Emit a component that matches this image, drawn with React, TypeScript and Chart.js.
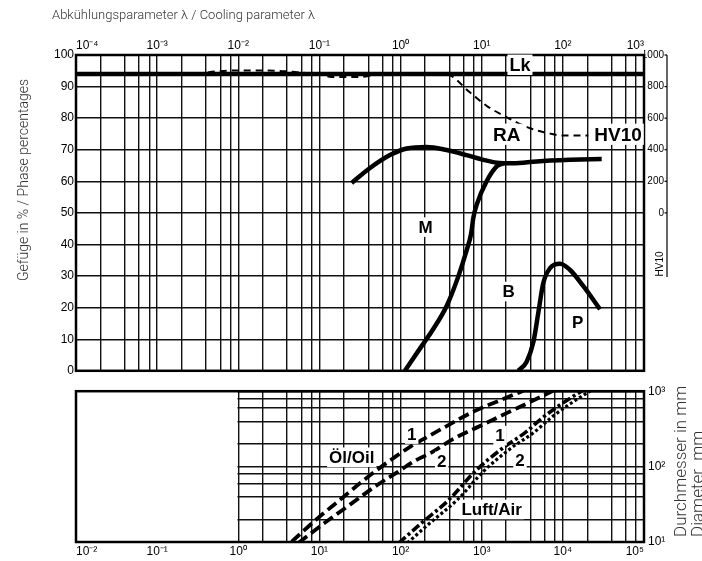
import React, { useEffect, useRef } from 'react';
import { Chart, registerables } from 'chart.js';

Chart.register(...registerables);

// ---------- axes / ticks ----------
const TOP_DECADES = [-4, -3, -2, -1, 0, 1, 2, 3];
const BOTTOM_DECADES = [-2, -1, 0, 1, 2, 3, 4, 5];
const DIAM_DECADES = [1, 2, 3];
const GRID_STEPS = [1, 2, 4, 6, 8];
const PCT_STEP = 10;
const HV_TICK_STEP = 200;

// ---------- upper panel data (cooling parameter lambda) ----------
const lkLambda = [1e-4, 1e3];
const lkPct = [94, 94];

const hvLambda = [0.003, 0.006, 0.01, 0.03, 0.05, 0.1, 0.15, 0.3, 0.5, 1, 3.7, 7.2, 11.5, 20.3, 39.4, 69.5, 101, 206];
const hvValues = [880, 898, 902, 900, 892, 876, 860, 860, 874, 880, 876, 762, 678, 606, 536, 502, 490, 490];

const raLambda = [0.25, 0.42, 0.74, 1.19, 2.1, 3.7, 6.5, 10.5, 15.3, 24.5, 47.6, 122, 301];
const raPct = [59.5, 64.2, 68.3, 70.4, 70.9, 69.9, 68.3, 66.8, 65.9, 65.7, 66.3, 66.8, 67.1];

const mbLambda = [1.13, 1.74, 2.54, 3.71, 5.15, 6.53, 7.4, 7.9, 8.7, 11.5, 15.3, 18.6];
const mbPct = [0, 7.1, 13.3, 20.6, 29.9, 38.2, 43.4, 48.6, 52.7, 60, 64.7, 65.7];

const pLambda = [28.2, 35.8, 43.3, 49.9, 57.4, 69.5, 92.3, 122, 179, 287];
const pPct = [0, 2.9, 9.1, 18.5, 27.8, 32.5, 33.9, 32, 26.8, 19.5];

// ---------- lower panel data (diameter in mm) ----------
const oil1X = [4.55, 9.25, 17.9, 34.7, 67.4, 131, 210, 370, 789, 1683, 3260];
const oil1D = [10.1, 20.1, 36.2, 65.3, 112, 183, 245, 345, 536, 757, 1014];
const oil2X = [5.5, 11.2, 23.8, 50.8, 89.6, 158, 231, 447, 953, 2030, 3935, 7570];
const oil2D = [9.7, 17.4, 31.3, 56.3, 83.4, 123, 150, 233, 345, 512, 719, 1015];
const air1X = [95, 185, 393, 838, 1790, 3460, 5560, 9800, 17300];
const air1D = [9.7, 18.2, 36.2, 87.7, 174, 284, 441, 687, 1015];
const air2X = [121, 235, 500, 1066, 2270, 4400, 7070, 12450, 22000];
const air2D = [9.7, 18.2, 36.2, 87.7, 174, 284, 441, 687, 1015];

// ---------- helpers ----------
const SUP: Record<string, string> = { '-': '⁻', '0': '⁰', '1': '¹', '2': '²', '3': '³', '4': '⁴', '5': '⁵', '6': '⁶', '7': '⁷', '8': '⁸', '9': '⁹' };
const powLabel = (e: number) => '10' + String(e).split('').map((c) => SUP[c]).join('');
const isPow = (v: number) => Math.abs(Math.log10(v) - Math.round(Math.log10(v))) < 1e-9;
const logTicks = (decades: number[]) => {
  const out: number[] = [];
  decades.forEach((d, i) => {
    if (i === decades.length - 1) { out.push(Math.pow(10, d)); return; }
    GRID_STEPS.forEach((m) => out.push(m * Math.pow(10, d)));
  });
  return out;
};
const pts = (xs: number[], ys: number[]) => xs.map((x, i) => ({ x, y: ys[i] }));
const logLabel = (v: any) => (isPow(Number(v)) ? powLabel(Math.round(Math.log10(Number(v)))) : '');

const GRID = '#111';
const TICK_FONT = { family: "'Liberation Sans', Arial, sans-serif", size: 12 };
const TITLE_FONT = "300 13px Roboto, 'Liberation Sans', sans-serif";
const SIDE_TITLE_FONT = "300 14px Roboto, 'Liberation Sans', sans-serif";
const BOLD = (s: number) => `bold ${s}px 'Liberation Sans', Arial, sans-serif`;

function boxedText(ctx: CanvasRenderingContext2D, text: string, x: number, y: number, size: number) {
  ctx.save();
  ctx.font = BOLD(size);
  const w = ctx.measureText(text).width;
  const h = size * 0.8;
  ctx.fillStyle = '#fff';
  ctx.fillRect(x - w / 2 - 2, y - h / 2 - 3, w + 4, h + 6);
  ctx.fillStyle = '#000';
  ctx.textAlign = 'center';
  ctx.textBaseline = 'middle';
  ctx.fillText(text, x, y + 1);
  ctx.restore();
}

const lineDs = (data: any[], extra: any) => ({
  data,
  borderColor: '#000',
  backgroundColor: '#000',
  pointRadius: 0,
  fill: false,
  cubicInterpolationMode: 'monotone',
  borderCapStyle: 'butt',
  ...extra,
});

function topConfig(): any {
  const xTicks = logTicks(TOP_DECADES);
  const decor = {
    id: 'topDecor',
    beforeDatasetsDraw(chart: any) {
      const { ctx, chartArea: a } = chart;
      ctx.save();
      ctx.strokeStyle = '#000';
      ctx.lineWidth = 2.5;
      ctx.strokeRect(a.left, a.top, a.right - a.left, a.bottom - a.top);
      ctx.restore();
    },
    afterDatasetsDraw(chart: any) {
      const { ctx } = chart;
      const x = chart.scales.x, y = chart.scales.y;
      boxedText(ctx, 'Lk', x.getPixelForValue(29.6), y.getPixelForValue(96.9), 18);
      boxedText(ctx, 'RA', x.getPixelForValue(20.3), y.getPixelForValue(74.9), 19);
      boxedText(ctx, 'HV10', x.getPixelForValue(479), y.getPixelForValue(74.9), 19);
      boxedText(ctx, 'M', x.getPixelForValue(2.03), y.getPixelForValue(45.5), 17);
      boxedText(ctx, 'B', x.getPixelForValue(21.4), y.getPixelForValue(25.1), 17);
      boxedText(ctx, 'P', x.getPixelForValue(152), y.getPixelForValue(15.4), 17);
    },
    afterDraw(chart: any) {
      const { ctx } = chart;
      const hv = chart.scales.yHV;
      ctx.save();
      ctx.fillStyle = '#333';
      ctx.font = TITLE_FONT;
      ctx.textAlign = 'left';
      ctx.textBaseline = 'middle';
      ctx.fillText('Abkühlungsparameter λ / Cooling parameter λ', 52, 16);
      ctx.save();
      ctx.font = SIDE_TITLE_FONT;
      ctx.translate(24, 180);
      ctx.rotate(-Math.PI / 2);
      ctx.textAlign = 'center';
      ctx.fillText('Gefüge in % / Phase percentages', 0, 0);
      ctx.restore();
      // HV10 axis line and ticks
      const lx = 667;
      ctx.strokeStyle = '#000';
      ctx.lineWidth = 1.2;
      ctx.beginPath();
      ctx.moveTo(lx, chart.chartArea.top);
      ctx.lineTo(lx, 277);
      ctx.stroke();
      hv.ticks.forEach((t: any) => {
        const py = hv.getPixelForValue(t.value);
        ctx.beginPath();
        ctx.moveTo(lx - 2.5, py);
        ctx.lineTo(lx, py);
        ctx.stroke();
      });
      ctx.save();
      ctx.translate(660, 264);
      ctx.rotate(-Math.PI / 2);
      ctx.fillStyle = '#000';
      ctx.font = "10px 'Liberation Sans', Arial, sans-serif";
      ctx.textAlign = 'center';
      ctx.textBaseline = 'middle';
      ctx.fillText('HV10', 0, 0);
      ctx.restore();
      ctx.restore();
    },
  };
  return {
    type: 'line',
    data: {
      datasets: [
        lineDs(pts(lkLambda, lkPct), { yAxisID: 'y', borderWidth: 4.5, cubicInterpolationMode: 'default', tension: 0 }),
        lineDs(pts(raLambda, raPct), { yAxisID: 'y', borderWidth: 4.5 }),
        lineDs(pts(mbLambda, mbPct), { yAxisID: 'y', borderWidth: 4.5 }),
        lineDs(pts(pLambda, pPct), { yAxisID: 'y', borderWidth: 4.5 }),
        lineDs(pts(hvLambda, hvValues), { yAxisID: 'yHV', borderWidth: 2, borderDash: [7, 5] }),
      ],
    },
    options: {
      animation: false,
      responsive: false,
      events: [],
      layout: { padding: { left: 0, top: 0, bottom: 4, right: 38 } },
      plugins: { legend: { display: false }, tooltip: { enabled: false }, title: { display: false } },
      scales: {
        x: {
          type: 'logarithmic',
          position: 'top',
          min: 1e-4,
          max: 1e3,
          afterBuildTicks: (s: any) => { s.ticks = xTicks.map((v) => ({ value: v })); },
          afterFit: (s: any) => { s.height = 55; },
          grid: { color: GRID, lineWidth: 1.4, drawTicks: false },
          border: { display: false },
          ticks: { autoSkip: false, maxRotation: 0, minRotation: 0, align: 'inner', padding: 2, font: TICK_FONT, color: '#000', callback: logLabel },
        },
        y: {
          type: 'linear',
          position: 'left',
          min: 0,
          max: 100,
          afterFit: (s: any) => { s.width = 76; },
          grid: { color: GRID, lineWidth: 1.4, drawTicks: false },
          border: { display: false },
          ticks: { stepSize: PCT_STEP, padding: 2, font: TICK_FONT, color: '#000' },
        },
        yHV: {
          type: 'linear',
          position: 'right',
          min: -1000,
          max: 1000,
          afterBuildTicks: (s: any) => { s.ticks = s.ticks.filter((t: any) => t.value >= 0); },
          afterFit: (s: any) => { s.width = 20; },
          grid: { display: false, drawTicks: false },
          border: { display: false },
          ticks: { stepSize: HV_TICK_STEP, crossAlign: 'far', padding: 0, font: { family: TICK_FONT.family, size: 10 }, color: '#000', callback: (v: any) => String(v) },
        },
      },
    },
    plugins: [decor],
  };
}

function bottomConfig(): any {
  const xTicks = logTicks(BOTTOM_DECADES);
  const yTicks = logTicks(DIAM_DECADES);
  const decor = {
    id: 'botDecor',
    beforeDatasetsDraw(chart: any) {
      const { ctx, chartArea: a } = chart;
      const x1 = chart.scales.x.getPixelForValue(1);
      ctx.save();
      ctx.fillStyle = '#fff';
      ctx.fillRect(a.left, a.top, x1 - a.left - 0.8, a.bottom - a.top);
      ctx.strokeStyle = '#000';
      ctx.lineWidth = 2.5;
      ctx.strokeRect(a.left, a.top, a.right - a.left, a.bottom - a.top);
      ctx.restore();
    },
    afterDatasetsDraw(chart: any) {
      const { ctx } = chart;
      const x = chart.scales.x, y = chart.scales.y;
      boxedText(ctx, 'Öl/Oil', x.getPixelForValue(25), y.getPixelForValue(133), 17);
      boxedText(ctx, '1', x.getPixelForValue(137), y.getPixelForValue(270), 17);
      boxedText(ctx, '2', x.getPixelForValue(321), y.getPixelForValue(117), 17);
      boxedText(ctx, '1', x.getPixelForValue(1683), y.getPixelForValue(257), 17);
      boxedText(ctx, '2', x.getPixelForValue(2965), y.getPixelForValue(123), 17);
      boxedText(ctx, 'Luft/Air', x.getPixelForValue(1327), y.getPixelForValue(27), 17);
    },
    afterDraw(chart: any) {
      const { ctx } = chart;
      ctx.save();
      ctx.fillStyle = '#333';
      ctx.font = "300 17px Roboto, 'Liberation Sans', sans-serif";
      ctx.textAlign = 'left';
      ctx.textBaseline = 'middle';
      ctx.save();
      ctx.translate(682, 157);
      ctx.rotate(-Math.PI / 2);
      ctx.fillText('Durchmesser in mm', 0, 0);
      ctx.restore();
      ctx.save();
      ctx.translate(699, 157);
      ctx.rotate(-Math.PI / 2);
      ctx.fillText('Diameter  mm', 0, 0);
      ctx.restore();
      ctx.restore();
    },
  };
  return {
    type: 'line',
    data: {
      datasets: [
        lineDs(pts(oil1X, oil1D), { borderWidth: 3.8, borderDash: [11, 5] }),
        lineDs(pts(oil2X, oil2D), { borderWidth: 3.8, borderDash: [11, 5] }),
        lineDs(pts(air1X, air1D), { borderWidth: 3.6, borderDash: [9, 3, 3, 3] }),
        lineDs(pts(air2X, air2D), { borderWidth: 3.2, borderDash: [3, 2.5] }),
      ],
    },
    options: {
      animation: false,
      responsive: false,
      events: [],
      layout: { padding: { left: 76, top: 5.5, right: 0, bottom: 0 } },
      plugins: { legend: { display: false }, tooltip: { enabled: false }, title: { display: false } },
      scales: {
        x: {
          type: 'logarithmic',
          position: 'bottom',
          min: 1e-2,
          max: 1e5,
          afterBuildTicks: (s: any) => { s.ticks = xTicks.map((v) => ({ value: v })); },
          afterFit: (s: any) => { s.height = 19; },
          grid: { color: (c: any) => (c.tick && c.tick.value < 1 ? 'rgba(0,0,0,0)' : GRID), lineWidth: 1.4, drawTicks: false },
          border: { display: false },
          ticks: { autoSkip: false, maxRotation: 0, minRotation: 0, align: 'inner', padding: 2, font: TICK_FONT, color: '#000', callback: logLabel },
        },
        y: {
          type: 'logarithmic',
          position: 'right',
          min: 10,
          max: 1000,
          afterBuildTicks: (s: any) => { s.ticks = yTicks.map((v) => ({ value: v })); },
          afterFit: (s: any) => { s.width = 58; },
          grid: { color: GRID, lineWidth: 1.4, drawTicks: false },
          border: { display: false },
          ticks: { autoSkip: false, padding: 4, font: TICK_FONT, color: '#000', callback: logLabel },
        },
      },
    },
    plugins: [decor],
  };
}

export default function App() {
  const topRef = useRef<HTMLCanvasElement>(null);
  const botRef = useRef<HTMLCanvasElement>(null);
  useEffect(() => {
    const c1 = new Chart(topRef.current as HTMLCanvasElement, topConfig());
    const c2 = new Chart(botRef.current as HTMLCanvasElement, bottomConfig());
    return () => {
      c1.destroy();
      c2.destroy();
    };
  }, []);
  return (
    <div style={{ position: 'absolute', left: 0, top: 0, width: 702, height: 561, background: '#fff', overflow: 'hidden' }}>
      <canvas ref={topRef} width={702} height={380} style={{ position: 'absolute', left: 0, top: 0, width: 702, height: 380 }} />
      <canvas ref={botRef} width={702} height={181} style={{ position: 'absolute', left: 0, top: 380, width: 702, height: 181 }} />
    </div>
  );
}
